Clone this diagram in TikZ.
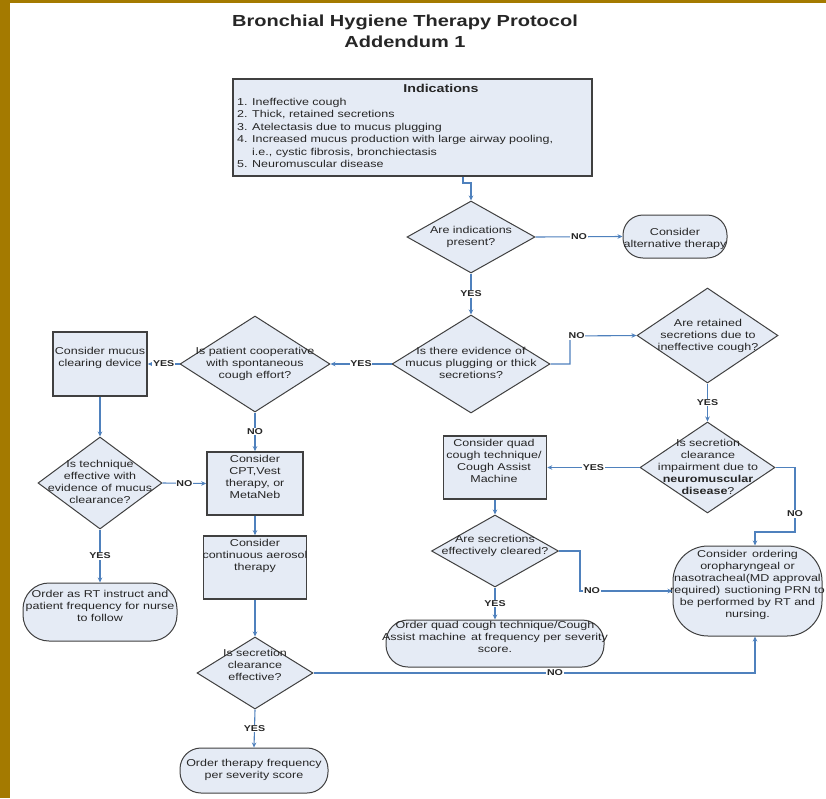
\documentclass[tikz,border=0pt]{standalone}
\usepackage{fontspec}
\setmainfont{Liberation Sans}[FakeStretch=1.25]
\usetikzlibrary{shapes.geometric,arrows.meta,calc}
\definecolor{gold}{HTML}{A47A00}
\definecolor{boxfill}{HTML}{E5EBF5}
\definecolor{bord}{HTML}{404040}
\definecolor{lblue}{HTML}{4F81BD}
\definecolor{txt}{HTML}{262626}
\tikzset{
  dtxt/.style={font=\fontsize{10}{12}\selectfont, align=center, inner sep=0pt, text=txt},
  dia/.style={diamond, draw=bord, fill=boxfill, line width=1pt, inner sep=0pt},
  rbox/.style={rectangle, draw=bord, fill=boxfill, line width=1.6pt, inner sep=0pt},
  term/.style={rectangle, draw=bord, fill=boxfill, line width=1pt, inner sep=0pt},
  conn/.style={draw=lblue, line width=1.1pt, -{Stealth[length=5pt,width=4.5pt]}},
  lbl/.style={font=\bfseries\fontsize{8.5}{10}\selectfont, fill=white, inner sep=0.6pt, text=txt},
}
\begin{document}
\begin{tikzpicture}[x=1pt,y=-1pt]
\useasboundingbox (0,0) rectangle (826,798);
\fill[white] (0,0) rectangle (826,798);
\fill[gold] (0,0) rectangle (10,798);
\fill[gold] (0,0) rectangle (826,3);

% title
\node[font=\bfseries\fontsize{16}{21.5}\selectfont, align=center, text=txt, inner sep=0pt] (title) at (405,31.5) {Bronchial Hygiene Therapy Protocol\\Addendum 1};

% indications
\node[rbox, minimum width=359pt, minimum height=97pt] (ind) at (412.5,127.5) {};
\node[font=\bfseries\fontsize{11.4}{13}\selectfont, text=txt, inner sep=0pt] (indh) at (441,88) {Indications};
\node[dtxt, font=\fontsize{10}{12.4}\selectfont, align=left, anchor=west] (indl) at (237,133) {%
\makebox[15pt][l]{1.}Ineffective cough\\
\makebox[15pt][l]{2.}Thick, retained secretions\\
\makebox[15pt][l]{3.}Atelectasis due to mucus plugging\\
\makebox[15pt][l]{4.}Increased mucus production with large airway pooling,\\
\makebox[15pt][l]{}i.e., cystic fibrosis, bronchiectasis\\
\makebox[15pt][l]{5.}Neuromuscular disease};

% diamonds
\node[dia, minimum width=128pt, minimum height=72pt] (d1) at (471,237) {};
\node[dtxt] (d1t) at (471,237) {Are indications\\present?};
\node[dia, minimum width=158pt, minimum height=98pt] (d2) at (471,364) {};
\node[dtxt] (d2t) at (471,363) {Is there evidence of\\mucus plugging or thick\\secretions?};
\node[dia, minimum width=141pt, minimum height=95pt] (d3) at (707.5,335.5) {};
\node[dtxt] (d3t) at (708,336) {Are retained\\secretions due to\\ineffective cough?};
\node[dia, minimum width=135pt, minimum height=91pt] (d4) at (707.5,467.5) {};
\node[dtxt] (d4t) at (708,467) {Is secretion\\clearance\\impairment due to\\\textbf{neuromuscular}\\\textbf{disease}?};
\node[dia, minimum width=150pt, minimum height=96pt] (coop) at (255,364) {};
\node[dtxt] (coopt) at (255,364) {Is patient cooperative\\with spontaneous\\cough effort?};
\node[dia, minimum width=124pt, minimum height=92pt] (tech) at (100,483) {};
\node[dtxt] (techt) at (100,482) {Is technique\\effective with\\evidence of mucus\\clearance?};
\node[dia, minimum width=127pt, minimum height=72pt] (d5) at (495,551) {};
\node[dtxt] (d5t) at (495,546) {Are secretions\\effectively cleared?};
\node[dia, minimum width=116pt, minimum height=72pt] (d6) at (255,673) {};
\node[dtxt] (d6t) at (255,665) {Is secretion\\clearance\\effective?};

% boxes
\node[rbox, minimum width=94pt, minimum height=64pt] (mucus) at (100,364) {};
\node[dtxt] (mucust) at (100,357.5) {Consider mucus\\clearing device};
\node[rbox, minimum width=96pt, minimum height=63pt] (cpt) at (255,483.5) {};
\node[dtxt] (cptt) at (255,477) {Consider\\CPT,Vest\\therapy, or\\MetaNeb};
\node[rbox, minimum width=103pt, minimum height=63pt] (aero) at (255,567.5) {};
\node[dtxt] (aerot) at (255,556) {Consider\\continuous aerosol\\therapy};
\node[rbox, minimum width=103pt, minimum height=63pt] (quad) at (495,467.5) {};
\node[dtxt] (quadt) at (494,461) {Consider quad\\cough technique/\\Cough Assist\\Machine};

% terminals
\node[term, rounded corners=20pt, minimum width=104pt, minimum height=43pt] (alt) at (675,236.5) {};
\node[dtxt] (altt) at (675,239) {Consider\\alternative therapy};
\node[term, rounded corners=26pt, minimum width=154pt, minimum height=58pt] (rt) at (100,612) {};
\node[dtxt] (rtt) at (100,606) {Order as RT instruct and\\patient frequency for nurse\\to follow};
\node[term, rounded corners=22pt, minimum width=218pt, minimum height=47pt] (oq) at (495,643.5) {};
\node[dtxt] (oqt) at (495,637) {Order quad cough technique/Cough\\Assist machine\hspace{1.5pt} at frequency per severity\\score.};
\node[term, rounded corners=35pt, minimum width=149pt, minimum height=90pt] (suc) at (747.5,591) {};
\node[dtxt] (suct) at (747.5,585) {Consider\hspace{1.5pt} ordering\\oropharyngeal or\\nasotracheal(MD approval\\required)\hspace{1pt} suctioning PRN to\\be performed by RT and\\nursing.};
\node[term, rounded corners=21pt, minimum width=148pt, minimum height=45pt] (ther) at (254,770.5) {};
\node[dtxt] (thert) at (254,770) {Order therapy frequency\\per severity score};

% helper coordinates
\coordinate (c0) at (463,183);
\coordinate (c2) at (570,336);
\coordinate (c4a) at (795,467.5);
\coordinate (c4b) at (795,532);
\coordinate (c5) at (580,591);
\coordinate (c6) at (755,673);

% connectors
\draw[conn] (ind.south -| c0) -- (c0) -| (d1.north);
\draw[conn] (d1.east) -- node[lbl]{NO} (alt.west);
\draw[conn] (d1.south) -- node[lbl]{YES} (d2.north);
\draw[conn] (d2.east) -| (c2) -- node[lbl,pos=0.1]{NO} (d3.west);
\draw[conn] (d2.west) -- node[lbl]{YES} (coop.east);
\draw[conn] (coop.west) -- node[lbl]{YES} (mucus.east);
\draw[conn] (coop.south) -- node[lbl]{NO} (cpt.north);
\draw[conn] (mucus.south) -- (tech.north);
\draw[conn] (tech.east) -- node[lbl]{NO} (cpt.west);
\draw[conn] (tech.south) -- node[lbl]{YES} (rt.north);
\draw[conn] (cpt.south) -- (aero.north);
\draw[conn] (aero.south) -- (d6.north);
\draw[conn] (d6.south) -- node[lbl]{YES} (ther.north);
\draw[conn] (d6.east) -- node[lbl,pos=0.547]{NO} (c6) -- (suc.south -| c6);
\draw[conn] (d3.south) -- node[lbl]{YES} (d4.north);
\draw[conn] (d4.west) -- node[lbl]{YES} (quad.east);
\draw[conn] (d4.east) -- (c4a) -- node[lbl,pos=0.72]{NO} (c4b) -| (suc.north -| c6);
\draw[conn] (quad.south) -- (d5.north);
\draw[conn] (d5.east) -| (c5) -- node[lbl,pos=0.13]{NO} (suc.west);
\draw[conn] (d5.south) -- node[lbl]{YES} (oq.north);
\end{tikzpicture}
\end{document}
